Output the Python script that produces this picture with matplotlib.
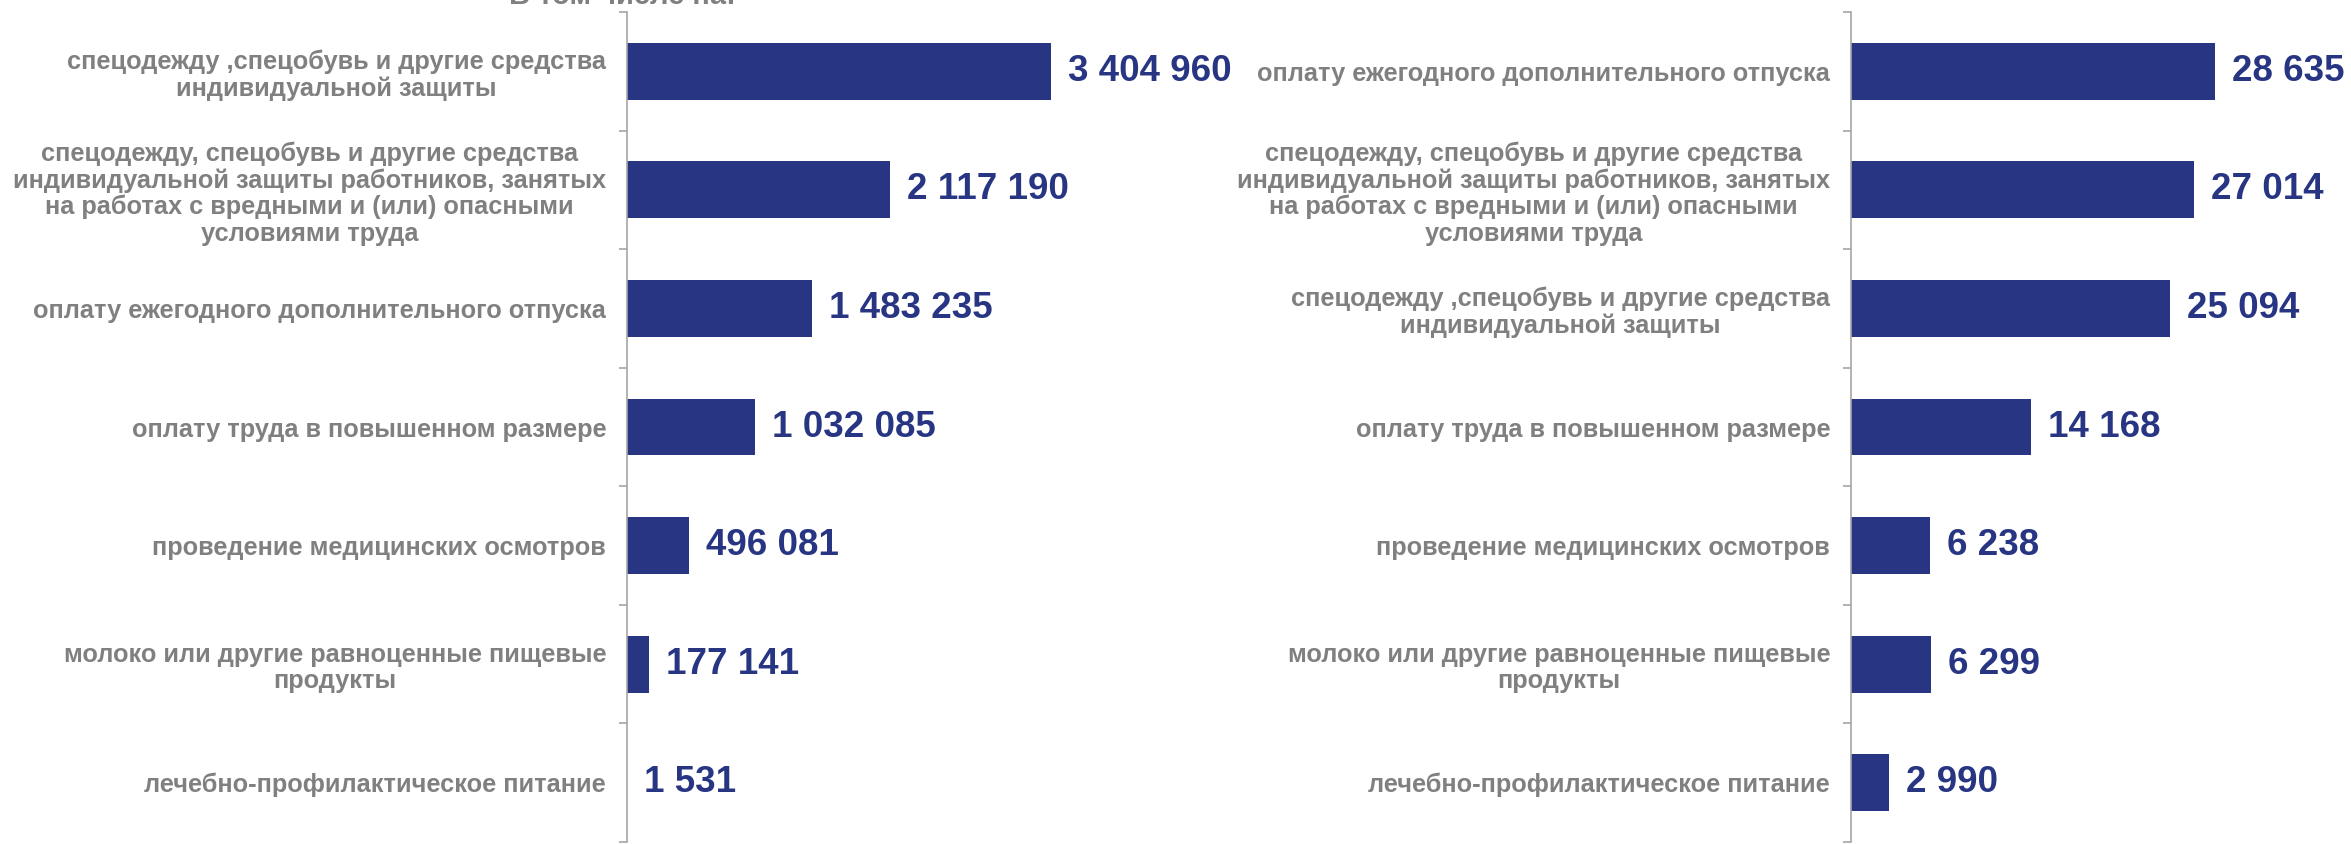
import matplotlib
matplotlib.use("Agg")
import matplotlib.pyplot as plt
import numpy as np

plt.rcParams['font.family'] = ['Liberation Sans', 'DejaVu Sans']

# left chart
left_labels = [
    "спецодежду ,спецобувь и другие средства\nиндивидуальной защиты",
    "спецодежду, спецобувь и другие средства\nиндивидуальной защиты работников, занятых\nна работах с вредными и (или) опасными\nусловиями труда",
    "оплату ежегодного дополнительного отпуска",
    "оплату труда в повышенном размере",
    "проведение медицинских осмотров",
    "молоко или другие равноценные пищевые\nпродукты",
    "лечебно-профилактическое питание",
]
left_values = [3404960, 2117190, 1483235, 1032085, 496081, 177141, 1531]

# right chart
right_labels = [
    "оплату ежегодного дополнительного отпуска",
    "спецодежду, спецобувь и другие средства\nиндивидуальной защиты работников, занятых\nна работах с вредными и (или) опасными\nусловиями труда",
    "спецодежду ,спецобувь и другие средства\nиндивидуальной защиты",
    "оплату труда в повышенном размере",
    "проведение медицинских осмотров",
    "молоко или другие равноценные пищевые\nпродукты",
    "лечебно-профилактическое питание",
]
right_values = [28635, 27014, 25094, 14168, 6238, 6299, 2990]

BAR = "#283583"
GREY = "#808080"
W, H = 2351, 844


def fmt(v):
    return f"{v:,}".replace(",", " ")


def panel(ax, labels, values, xmax, offset):
    y = np.arange(len(values))
    ax.barh(y, values, height=0.48, color=BAR, zorder=2)
    ax.set_xlim(0, xmax)
    ax.set_ylim(len(values) - 0.5, -0.5)
    ax.set_yticks(y)
    ax.set_yticklabels(labels, fontsize=18.3, fontweight="bold", color=GREY)
    for t in ax.get_yticklabels():
        t.set_multialignment("center")
        t.set_linespacing(1.12)
    ax.set_yticks(np.arange(-0.5, len(values)), minor=True)
    ax.tick_params(axis="y", which="major", length=0, pad=15)
    ax.tick_params(axis="y", which="minor", length=6, width=1.2,
                   color="#a6a6a6", direction="out")
    ax.xaxis.set_visible(False)
    for s in ["top", "right", "bottom"]:
        ax.spines[s].set_visible(False)
    ax.spines["left"].set_color("#a6a6a6")
    ax.spines["left"].set_linewidth(1.2)
    for yi, v in zip(y, values):
        ax.text(v + offset, yi, fmt(v), va="center", ha="left",
                fontsize=26.5, fontweight="bold", color=BAR)


fig = plt.figure(figsize=(W / 100, H / 100), dpi=100)
ax1 = fig.add_axes([627 / W, 2 / H, 560 / W, 830 / H])
ax2 = fig.add_axes([1851 / W, 2 / H, 480 / W, 830 / H])

panel(ax1, left_labels, left_values, 4.5e6, 4.5e6 * 17 / 560)
panel(ax2, right_labels, right_values, 37760, 37760 * 17 / 480)

# title cut off at the top
fig.text(622 / W, 1 - 4 / H, "В том числе на:", ha="center", va="baseline",
         fontsize=21, fontweight="bold", color=GREY)

fig.savefig("out.png", dpi=100)
